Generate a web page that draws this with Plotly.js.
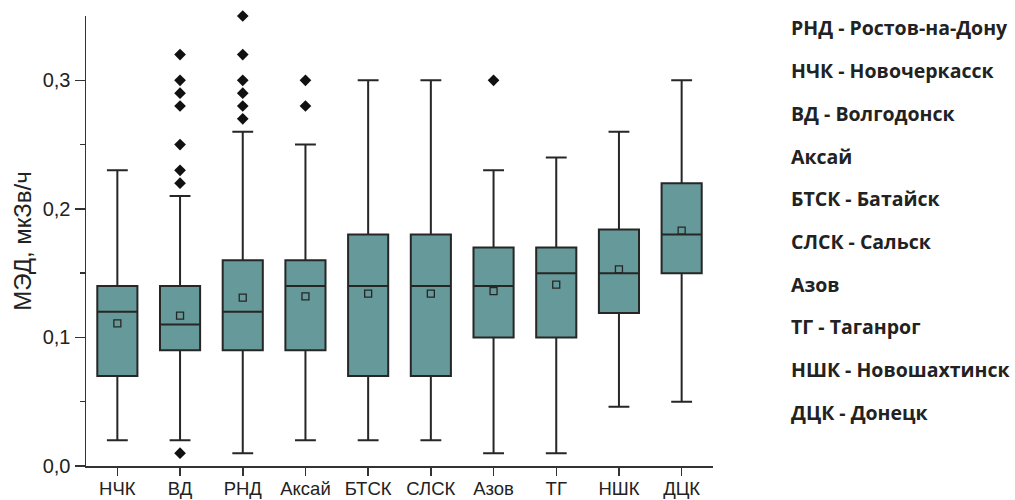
<!DOCTYPE html>
<html>
<head>
<meta charset="utf-8">
<script src="https://cdn.plot.ly/plotly-3.0.1.min.js"></script>
<style>
  html, body { margin: 0; padding: 0; background: #fff; }
  #chart { width: 1015px; height: 500px; }
</style>
</head>
<body>
<div id="chart"></div>
<script>
// Stations (short codes) along the x axis
const stations = ["НЧК", "ВД", "РНД", "Аксай", "БТСК", "СЛСК", "Азов", "ТГ", "НШК", "ДЦК"];

// Box statistics, МЭД in мкЗв/ч
const lowerWhisker = [0.02, 0.02, 0.01, 0.02, 0.02, 0.02, 0.01, 0.01, 0.046, 0.05];
const q1Values     = [0.07, 0.09, 0.09, 0.09, 0.07, 0.07, 0.10, 0.10, 0.119, 0.15];
const medianValues = [0.12, 0.11, 0.12, 0.14, 0.14, 0.14, 0.14, 0.15, 0.15, 0.18];
const q3Values     = [0.14, 0.14, 0.16, 0.16, 0.18, 0.18, 0.17, 0.17, 0.184, 0.22];
const upperWhisker = [0.23, 0.21, 0.26, 0.25, 0.30, 0.30, 0.23, 0.24, 0.26, 0.30];
const meanValues   = [0.111, 0.117, 0.131, 0.132, 0.134, 0.134, 0.136, 0.141, 0.153, 0.183];

// Outlying measurements per station
const outliers = {
  "НЧК":   [],
  "ВД":    [0.32, 0.30, 0.29, 0.28, 0.25, 0.23, 0.22, 0.01],
  "РНД":   [0.35, 0.32, 0.30, 0.29, 0.28, 0.27],
  "Аксай": [0.30, 0.28],
  "БТСК":  [],
  "СЛСК":  [],
  "Азов":  [0.30],
  "ТГ":    [],
  "НШК":   [],
  "ДЦК":   []
};

// Key to the abbreviations, shown at the right
const stationKey = [
  "РНД - Ростов-на-Дону",
  "НЧК - Новочеркасск",
  "ВД - Волгодонск",
  "Аксай",
  "БТСК - Батайск",
  "СЛСК - Сальск",
  "Азов",
  "ТГ - Таганрог",
  "НШК - Новошахтинск",
  "ДЦК - Донецк"
];

const outX = [], outY = [];
stations.forEach(s => outliers[s].forEach(v => { outX.push(s); outY.push(v); }));

const traces = [
  {
    type: "box",
    x: stations,
    q1: q1Values,
    median: medianValues,
    q3: q3Values,
    lowerfence: lowerWhisker,
    upperfence: upperWhisker,
    boxpoints: false,
    width: 0.64,
    whiskerwidth: 0.52,
    fillcolor: "#669999",
    line: { color: "#262626", width: 2 },
    hoverinfo: "skip"
  },
  {
    type: "scatter",
    mode: "markers",
    x: stations,
    y: meanValues,
    marker: { symbol: "square-open", size: 7, color: "#262626", line: { width: 1.3 } },
    hoverinfo: "skip"
  },
  {
    type: "scatter",
    mode: "markers",
    x: outX,
    y: outY,
    cliponaxis: false,
    marker: { symbol: "diamond", size: 9, color: "#111" },
    hoverinfo: "skip"
  }
];

const plotTop = 16, plotBottom = 466;
const keyAnnotations = stationKey.map((t, i) => ({
  text: t,
  xref: "paper", yref: "paper",
  x: (789 - 86) / (1015 - 86 - 302),
  y: (plotBottom - (28 + i * 42.7)) / (plotBottom - plotTop),
  xanchor: "left", yanchor: "middle",
  showarrow: false,
  font: { family: "Open Sans, Noto Sans, sans-serif", size: 19.5, color: "#222", weight: 700 }
}));

const layout = {
  width: 1015,
  height: 500,
  margin: { l: 86, r: 302, t: plotTop, b: 500 - plotBottom, pad: 0 },
  paper_bgcolor: "#ffffff",
  plot_bgcolor: "#ffffff",
  showlegend: false,
  separators: ", ",
  font: { family: "Liberation Sans, Arial, sans-serif", color: "#222" },
  xaxis: {
    type: "category",
    range: [-0.5, 9.5],
    showline: true,
    linecolor: "#333",
    linewidth: 1.5,
    ticks: "outside",
    ticklen: 8,
    tickwidth: 1.5,
    tickcolor: "#333",
    showgrid: false,
    zeroline: false,
    ticklabelstandoff: -3,
    tickfont: { size: 18.5, color: "#222" }
  },
  yaxis: {
    range: [0, 0.35],
    showline: true,
    linecolor: "#333",
    linewidth: 1.5,
    ticks: "outside",
    ticklen: 10,
    tickwidth: 1.5,
    tickcolor: "#333",
    tickvals: [0, 0.1, 0.2, 0.3],
    tickformat: ".1f",
    minor: { tickvals: [0.05, 0.15, 0.25], ticks: "outside", ticklen: 5, tickwidth: 1.5, tickcolor: "#333" },
    showgrid: false,
    zeroline: false,
    tickfont: { size: 20, color: "#222" },
    title: { text: "МЭД, мкЗв/ч", font: { size: 24, color: "#222" }, standoff: 4 }
  },
  annotations: keyAnnotations
};

Plotly.newPlot("chart", traces, layout, { displayModeBar: false, staticPlot: true });
</script>
</body>
</html>
